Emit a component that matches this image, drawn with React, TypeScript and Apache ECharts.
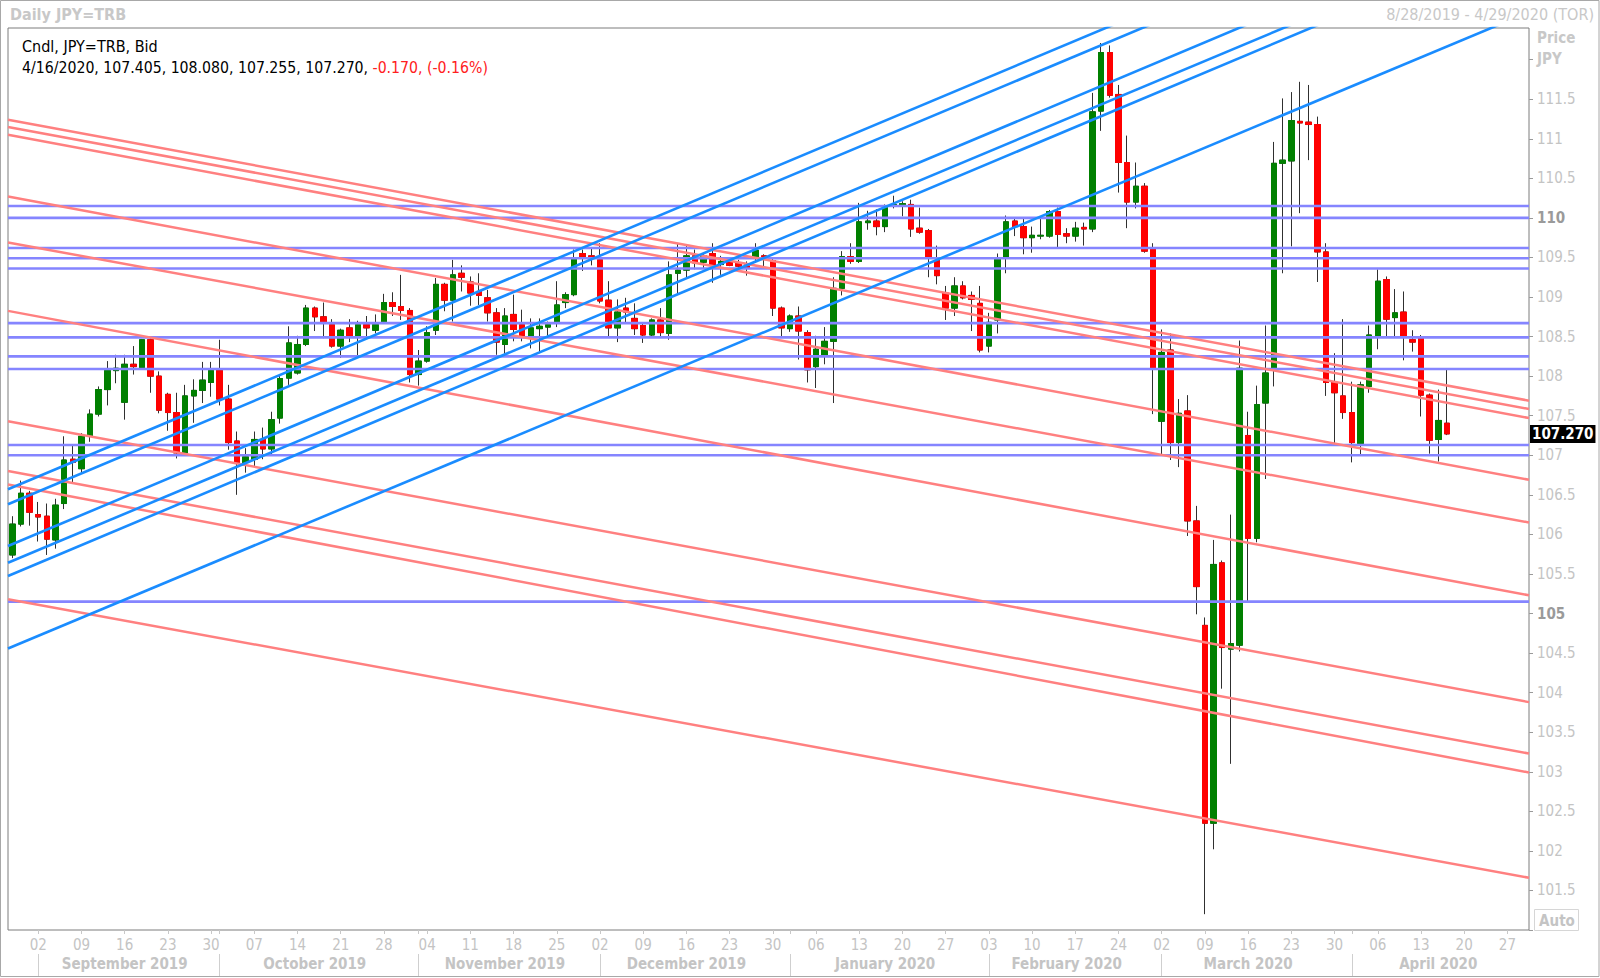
import React, { useEffect, useRef } from 'react';
import * as echarts from 'echarts';

// ---- data ----
const rangeStart = '2019-08-28';
const rangeEnd = '2020-04-29';

const open = [
  105.74, 106.13, 106.52, 106.25, 106.23, 105.93, 106.39, 106.95, 106.83, 107.24,
  107.52, 107.83, 108.07, 107.67, 108.15, 108.11, 108.46, 108.0, 107.77, 107.54,
  107.03, 107.75, 107.82, 107.92, 108.07, 107.71, 107.18, 106.91, 106.95, 107.2,
  107.08, 107.47, 107.975, 108.04, 108.4, 108.86, 108.75, 108.65, 108.38, 108.61,
  108.49, 108.65, 108.58, 108.68, 108.93, 108.88, 108.83, 108.02, 108.19, 108.58,
  109.16, 108.96, 109.3, 109.19, 109.07, 108.99, 108.8, 108.4, 108.78, 108.65,
  108.51, 108.6, 108.62, 108.69, 108.93, 109.03, 109.55, 109.52, 109.47, 108.96,
  108.61, 108.86, 108.73, 108.64, 108.52, 108.71, 108.54, 109.3, 109.34, 109.52,
  109.44, 109.55, 109.41, 109.44, 109.43, 109.41, 109.49, 109.52, 109.46, 108.86,
  108.6, 108.76, 108.55, 108.12, 108.25, 108.44, 109.11, 109.51, 109.45, 109.94,
  109.96, 109.89, 110.15, 110.16, 110.17, 109.87, 109.84, 109.46, 109.05, 108.86,
  109.14, 109.02, 108.92, 108.38, 108.71, 109.49, 109.96, 109.89, 109.75, 109.77,
  109.77, 110.08, 109.8, 109.77, 109.88, 109.86, 111.35, 112.09, 111.56, 110.7,
  110.2, 110.4, 109.61, 107.43, 108.33, 107.16, 107.56, 106.17, 104.85, 102.35,
  105.64, 104.55, 104.6, 107.25, 105.95, 107.66, 108.08, 110.69, 110.72, 111.22,
  111.21, 111.18, 109.57, 107.92, 107.75, 107.54, 107.15, 107.87, 108.5, 109.22,
  108.74, 108.81, 108.46, 108.5, 107.76, 107.2, 107.405,
];
const high = [
  106.23, 106.68, 106.55, 106.41, 106.39, 106.45, 107.24, 107.12, 107.28, 107.58,
  107.87, 108.19, 108.27, 108.27, 108.38, 108.47, 108.48, 108.06, 107.79, 107.79,
  107.89, 107.96, 108.18, 108.18, 108.46, 107.89, 107.3, 107.09, 107.3, 107.35,
  107.55, 108.0, 108.63, 108.51, 108.9, 108.88, 108.93, 108.72, 108.6, 108.72,
  108.7, 108.76, 108.78, 109.04, 109.06, 109.28, 108.86, 108.33, 108.63, 109.24,
  109.18, 109.47, 109.4, 109.26, 109.3, 109.09, 108.86, 108.86, 109.03, 108.84,
  108.73, 108.73, 108.69, 109.2, 109.06, 109.6, 109.6, 109.62, 109.68, 109.2,
  108.97, 108.99, 108.92, 108.66, 108.73, 108.86, 109.45, 109.68, 109.66, 109.6,
  109.56, 109.68, 109.52, 109.48, 109.47, 109.45, 109.68, 109.54, 109.48, 108.88,
  108.78, 108.88, 108.58, 108.51, 108.62, 109.25, 109.58, 109.68, 110.19, 110.09,
  110.11, 110.17, 110.28, 110.21, 110.23, 110.13, 109.86, 109.65, 109.14, 109.25,
  109.2, 109.07, 109.14, 108.8, 109.55, 110.03, 110.0, 110.01, 109.89, 109.99,
  110.1, 110.13, 109.87, 109.95, 109.94, 111.58, 112.21, 112.18, 111.68, 111.04,
  110.7, 110.44, 109.68, 108.59, 108.54, 107.71, 107.76, 106.36, 104.95, 105.93,
  105.67, 106.25, 108.45, 107.55, 107.88, 108.64, 110.96, 111.51, 111.59, 111.72,
  111.68, 111.28, 109.68, 108.29, 108.72, 107.93, 107.93, 108.64, 109.35, 109.26,
  109.1, 109.07, 108.58, 108.52, 107.78, 107.83, 108.08,
];
const low = [
  105.7, 106.1, 106.11, 105.91, 105.74, 105.82, 106.32, 106.65, 106.77, 107.17,
  107.49, 107.63, 107.91, 107.45, 108.02, 108.08, 107.79, 107.53, 107.31, 106.96,
  107.01, 107.41, 107.66, 107.74, 107.63, 107.07, 106.5, 106.78, 106.85, 106.95,
  107.0, 107.4, 107.89, 108.02, 108.38, 108.57, 108.48, 108.36, 108.23, 108.43,
  108.25, 108.5, 108.54, 108.66, 108.76, 108.71, 107.92, 107.88, 108.17, 108.52,
  108.82, 108.69, 109.07, 108.89, 108.9, 108.69, 108.27, 108.25, 108.44, 108.44,
  108.35, 108.29, 108.51, 108.62, 108.86, 109.01, 109.33, 109.4, 108.92, 108.5,
  108.43, 108.67, 108.52, 108.42, 108.5, 108.5, 108.46, 109.03, 109.24, 109.35,
  109.36, 109.18, 109.28, 109.39, 109.36, 109.27, 109.43, 109.37, 108.76, 108.5,
  108.56, 108.21, 107.92, 107.85, 108.15, 107.66, 109.02, 109.42, 109.43, 109.85,
  109.78, 109.82, 110.12, 110.02, 109.76, 109.8, 109.25, 109.16, 108.71, 108.76,
  108.97, 108.57, 108.3, 108.3, 108.54, 109.3, 109.77, 109.54, 109.56, 109.73,
  109.75, 109.63, 109.68, 109.7, 109.65, 109.82, 111.1, 111.52, 110.32, 109.87,
  110.12, 109.56, 107.52, 107.01, 106.94, 106.85, 105.98, 104.99, 101.2, 102.02,
  104.05, 103.1, 104.52, 105.15, 105.9, 106.7, 107.87, 109.3, 109.64, 110.06,
  110.73, 109.19, 107.75, 107.14, 107.46, 106.91, 107.0, 107.79, 108.34, 108.5,
  108.5, 108.2, 108.31, 107.49, 107.02, 106.92, 107.255,
];
const close = [
  106.13, 106.52, 106.28, 106.22, 105.94, 106.37, 106.94, 106.91, 107.24, 107.52,
  107.83, 108.07, 108.1, 108.15, 108.12, 108.46, 108.0, 107.57, 107.54, 107.03,
  107.75, 107.82, 107.95, 108.07, 107.71, 107.16, 106.91, 106.98, 107.2, 107.08,
  107.45, 107.97, 108.42, 108.4, 108.86, 108.75, 108.68, 108.38, 108.58, 108.49,
  108.65, 108.61, 108.65, 108.93, 108.88, 108.83, 108.02, 108.19, 108.55, 109.16,
  108.96, 109.28, 109.25, 109.05, 109.02, 108.8, 108.43, 108.76, 108.59, 108.51,
  108.61, 108.63, 108.65, 108.9, 109.03, 109.49, 109.51, 109.49, 108.95, 108.61,
  108.81, 108.81, 108.6, 108.52, 108.71, 108.55, 109.28, 109.34, 109.52, 109.43,
  109.52, 109.4, 109.45, 109.4, 109.39, 109.37, 109.59, 109.49, 108.86, 108.61,
  108.76, 108.57, 108.08, 108.34, 108.44, 109.11, 109.51, 109.45, 109.95, 109.96,
  109.89, 110.13, 110.17, 110.18, 109.86, 109.82, 109.49, 109.27, 108.86, 109.14,
  108.99, 108.97, 108.33, 108.68, 109.48, 109.95, 109.89, 109.75, 109.78, 109.78,
  110.08, 109.79, 109.77, 109.87, 109.86, 111.34, 112.09, 111.55, 110.7, 110.2,
  110.4, 109.58, 108.1, 108.3, 107.16, 107.53, 106.17, 105.34, 102.35, 105.62,
  104.57, 104.62, 108.1, 105.95, 107.64, 108.04, 110.69, 110.73, 111.23, 111.2,
  111.18, 109.57, 107.92, 107.79, 107.54, 107.16, 107.89, 108.52, 109.2, 108.72,
  108.8, 108.5, 108.43, 107.76, 107.19, 107.44, 107.27,
];

// horizontal support / resistance levels
const horizontalLevels = [110.15, 110.0, 109.62, 109.49, 109.36, 108.67, 108.49, 108.25, 108.09, 107.13, 107.0, 105.15];
// descending (red) trend lines: price at left edge / right edge of the plot
const redTrendLeft = [111.24, 111.15, 111.05, 110.27, 109.69, 108.825, 107.43, 106.8, 106.63, 105.18];
const redTrendRight = [107.69, 107.585, 107.47, 106.69, 106.15, 105.23, 103.88, 103.23, 102.99, 101.66];
// ascending (blue) trend lines: price at left edge / right edge of the plot
const blueTrendLeft = [106.571, 106.381, 105.853, 105.642, 105.474, 104.558];
const blueTrendRight = [114.648, 114.452, 113.943, 113.701, 113.56, 112.6];

const yMin = 101.0;
const yMax = 112.4;
const yStep = 0.5;

const monthNames = ['January', 'February', 'March', 'April', 'May', 'June', 'July', 'August', 'September', 'October', 'November', 'December'];

const FONT = "'DejaVu Sans Condensed', 'DejaVu Sans', sans-serif";

function weekdaysBetween(a: string, b: string): string[] {
  const out: string[] = [];
  const d = new Date(a + 'T00:00:00Z');
  const end = new Date(b + 'T00:00:00Z');
  while (d.getTime() <= end.getTime()) {
    const wd = d.getUTCDay();
    if (wd !== 0 && wd !== 6) out.push(d.toISOString().slice(0, 10));
    d.setUTCDate(d.getUTCDate() + 1);
  }
  return out;
}

const dates = weekdaysBetween(rangeStart, rangeEnd);

export default function App() {
  const ref = useRef<HTMLDivElement | null>(null);

  useEffect(() => {
    if (!ref.current) return;
    const chart = echarts.init(ref.current, null, { renderer: 'svg' });

    const n = dates.length;
    const isMonday = (s: string) => new Date(s + 'T00:00:00Z').getUTCDay() === 1;
    const monthKey = (s: string) => s.slice(0, 7);
    const monthStart = new Set<number>();
    dates.forEach((s, i) => {
      if (i > 0 && monthKey(s) !== monthKey(dates[i - 1])) monthStart.add(i);
    });
    const groups: Record<string, number[]> = {};
    dates.forEach((s, i) => {
      (groups[monthKey(s)] = groups[monthKey(s)] || []).push(i);
    });
    const monthMid = new Set<number>();
    Object.keys(groups).forEach((k) => {
      const idx = groups[k];
      if (idx.length < 10) return;
      monthMid.add(idx[Math.floor((idx.length - 1) / 2)]);
    });

    const wicks = open.map((o, i) => [o, close[i], low[i], high[i]]);
    const bodies = open.map((o, i) => [o, close[i], Math.min(o, close[i]), Math.max(o, close[i])]);

    const last = open.length - 1;
    const lastClose = close[last];
    const prevClose = close[last - 1];
    const chg = lastClose - prevClose;
    const pct = (chg / prevClose) * 100;
    const ld = dates[last];
    const lastDateTxt = `${+ld.slice(5, 7)}/${+ld.slice(8, 10)}/${ld.slice(0, 4)}`;
    const ohlcTxt = `${lastDateTxt}, ${open[last].toFixed(3)}, ${high[last].toFixed(3)}, ${low[last].toFixed(3)}, ${lastClose.toFixed(3)}, `;
    const chgTxt = `${chg.toFixed(3)}, (${pct.toFixed(2)}%)`;

    const xLeft = -0.5;
    const xRight = n - 0.5;

    const lineSeries: any[] = [];
    horizontalLevels.forEach((p) => {
      lineSeries.push({
        type: 'line', xAxisIndex: 2, yAxisIndex: 0, silent: true, symbol: 'none', z: 4, clip: true,
        lineStyle: { color: '#8585ff', width: 2.6 },
        data: [[xLeft, p], [xRight, p]],
      });
    });
    redTrendLeft.forEach((p, i) => {
      lineSeries.push({
        type: 'line', xAxisIndex: 2, yAxisIndex: 0, silent: true, symbol: 'none', z: 5, clip: true,
        lineStyle: { color: '#ff8080', width: 2.5 },
        data: [[xLeft, p], [xRight, redTrendRight[i]]],
      });
    });
    blueTrendLeft.forEach((p, i) => {
      lineSeries.push({
        type: 'line', xAxisIndex: 2, yAxisIndex: 0, silent: true, symbol: 'none', z: 6, clip: true,
        lineStyle: { color: '#1a8cff', width: 2.6 },
        data: [[xLeft, p], [xRight, blueTrendRight[i]]],
      });
    });

    const option: any = {
      animation: false,
      backgroundColor: '#ffffff',
      grid: {
        left: 8, top: 28, right: 71, bottom: 48,
        show: true, borderColor: '#7d7d7d', borderWidth: 1, backgroundColor: '#ffffff',
      },
      xAxis: [
        {
          type: 'category', data: dates, boundaryGap: true, gridIndex: 0, position: 'bottom',
          axisLine: { show: false, onZero: false },
          axisTick: {
            show: true, alignWithLabel: true, length: 4,
            interval: (i: number, v: string) => isMonday(v) || monthStart.has(i),
            lineStyle: { color: '#c8c8c8' },
          },
          axisLabel: {
            show: true, margin: 7, color: '#c4c4c4', fontSize: 15, fontFamily: FONT,
            interval: (_i: number, v: string) => isMonday(v),
            formatter: (v: string) => v.slice(8, 10),
          },
          splitLine: { show: false },
        },
        {
          type: 'category', data: dates, boundaryGap: true, gridIndex: 0, position: 'bottom', offset: 24,
          axisLine: { show: false, onZero: false },
          axisTick: {
            show: true, alignWithLabel: true, length: 22,
            interval: (i: number) => monthStart.has(i),
            lineStyle: { color: '#cfcfcf' },
          },
          axisLabel: {
            show: true, margin: 2, color: '#c4c4c4', fontSize: 15, fontWeight: 'bold', fontFamily: FONT,
            interval: (i: number) => monthMid.has(i),
            formatter: (v: string) => `${monthNames[+v.slice(5, 7) - 1]} ${v.slice(0, 4)}`,
          },
          splitLine: { show: false },
        },
        {
          type: 'value', gridIndex: 0, min: xLeft, max: xRight, show: false,
          axisLine: { onZero: false },
        },
      ],
      yAxis: [
        {
          type: 'value', position: 'right', min: yMin, max: yMax, interval: yStep, scale: true,
          axisLine: { show: false, onZero: false },
          axisTick: { show: true, length: 4, lineStyle: { color: '#9a9a9a' } },
          splitLine: { show: false },
          axisLabel: {
            margin: 8, showMaxLabel: false,
            formatter: (v: number) => {
              if (v < yMin + 0.25 || v > yMax - 0.5) return '';
              return v % 5 === 0 ? `{b|${v}}` : `{n|${v}}`;
            },
            rich: {
              n: { color: '#c4c4c4', fontSize: 15, fontFamily: FONT },
              b: { color: '#9a9a9a', fontSize: 15, fontWeight: 'bold', fontFamily: FONT },
            },
          },
        },
      ],
      series: [
        {
          type: 'candlestick', xAxisIndex: 0, yAxisIndex: 0, silent: true, barWidth: 6, z: 2,
          itemStyle: { color: '#303030', color0: '#303030', borderColor: '#303030', borderColor0: '#303030', borderWidth: 1 },
          data: wicks,
        },
        {
          type: 'candlestick', xAxisIndex: 0, yAxisIndex: 0, silent: true, barWidth: 6, z: 3,
          itemStyle: { color: '#008000', color0: '#ff0000', borderColor: '#008000', borderColor0: '#ff0000', borderWidth: 1 },
          data: bodies,
          markLine: {
            silent: true, symbol: ['none', 'none'], animation: false,
            lineStyle: { color: 'rgba(0,0,0,0)', width: 0 },
            label: {
              show: true, position: 'end', distance: 1,
              formatter: () => lastClose.toFixed(3),
              backgroundColor: '#000000', color: '#ffffff', fontWeight: 'bold', fontSize: 15, fontFamily: FONT,
              padding: [2, 2, 1, 2],
            },
            data: [{ yAxis: lastClose }],
          },
        },
        ...lineSeries,
      ],
      graphic: [
        {
          type: 'text', x: 10, y: 6, silent: true,
          style: { text: 'Daily JPY=TRB', font: `bold 16px ${FONT}`, fill: '#c8c8c8', align: 'left', verticalAlign: 'top' },
        },
        {
          type: 'text', x: 1594, y: 6, silent: true,
          style: { text: '8/28/2019 - 4/29/2020 (TOR)', font: `16px ${FONT}`, fill: '#c8c8c8', align: 'right', verticalAlign: 'top' },
        },
        {
          type: 'text', x: 22, y: 38, silent: true, z: 100,
          style: { text: 'Cndl, JPY=TRB, Bid', font: `16px ${FONT}`, fill: '#000000', align: 'left', verticalAlign: 'top' },
        },
        {
          type: 'text', x: 22, y: 59, silent: true, z: 100,
          style: {
            text: `{k|${ohlcTxt}}{r|${chgTxt}}`,
            font: `15.7px ${FONT}`, align: 'left', verticalAlign: 'top',
            rich: {
              k: { fill: '#000000', font: `15.7px ${FONT}` },
              r: { fill: '#ff2020', font: `15.7px ${FONT}` },
            },
          },
        },
        {
          type: 'text', x: 1537, y: 30, silent: true,
          style: { text: 'Price', font: `bold 15px ${FONT}`, fill: '#c8c8c8', align: 'left', verticalAlign: 'top' },
        },
        {
          type: 'text', x: 1537, y: 51, silent: true,
          style: { text: 'JPY', font: `bold 15px ${FONT}`, fill: '#c8c8c8', align: 'left', verticalAlign: 'top' },
        },
        {
          type: 'group', x: 1534, y: 909, silent: true,
          children: [
            { type: 'rect', shape: { x: 0.5, y: 0.5, width: 44, height: 21 }, style: { fill: '#ffffff', stroke: '#d6d6d6', lineWidth: 1 } },
            { type: 'text', x: 23, y: 11.5, style: { text: 'Auto', font: `bold 15px ${FONT}`, fill: '#c4c4c4', align: 'center', verticalAlign: 'middle' } },
          ],
        },
        {
          type: 'rect', silent: true, z: 100,
          shape: { x: 0.5, y: 0.5, width: 1598.5, height: 976 },
          style: { fill: 'none', stroke: '#a8a8a8', lineWidth: 1 },
        },
      ],
    };

    chart.setOption(option);
    return () => chart.dispose();
  }, []);

  return (
    <div
      ref={ref}
      style={{ position: 'absolute', left: 0, top: 0, width: 1600, height: 978, background: '#ffffff' }}
    />
  );
}
